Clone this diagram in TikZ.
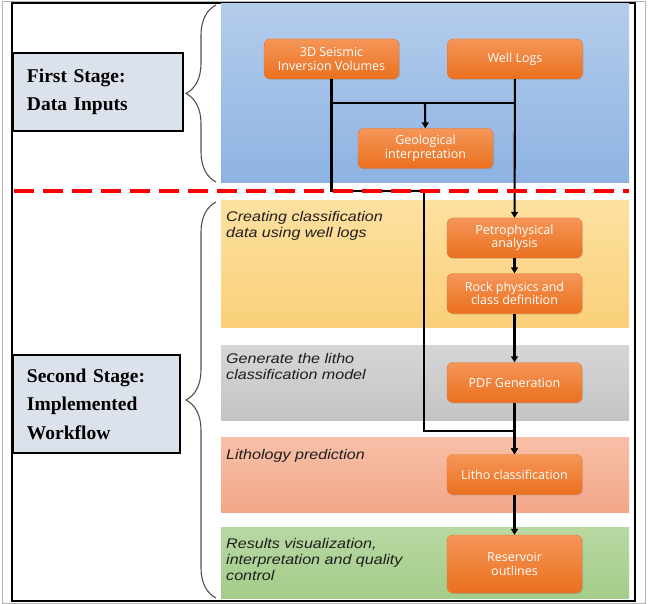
\documentclass[tikz,border=0pt]{standalone}
\usepackage{fontspec}
\setmainfont{Liberation Serif}
\newfontfamily\boxfont{Open Sans}
\newfontfamily\notefont[FakeStretch=1.15]{Liberation Sans}
\usepackage{tikz}
\usetikzlibrary{arrows.meta,decorations.pathreplacing,shadows}
\usepackage{xcolor}
\definecolor{stagefill}{RGB}{220,226,236}
\definecolor{boxtop}{RGB}{245,150,88}
\definecolor{boxbot}{RGB}{234,112,30}
\definecolor{boxline}{RGB}{226,116,48}
\definecolor{notegrey}{RGB}{30,30,30}
\definecolor{bracegrey}{RGB}{80,80,80}
\definecolor{bluetop}{RGB}{180,204,235}
\definecolor{bluebot}{RGB}{141,179,226}
\definecolor{yellowtop}{RGB}{253,224,160}
\definecolor{yellowbot}{RGB}{250,208,122}
\definecolor{greytop}{RGB}{214,214,214}
\definecolor{greybot}{RGB}{196,196,196}
\definecolor{salmontop}{RGB}{248,192,168}
\definecolor{salmonbot}{RGB}{242,166,136}
\definecolor{greentop}{RGB}{184,216,162}
\definecolor{greenbot}{RGB}{164,204,138}

\begin{document}
\begin{tikzpicture}[x=1pt, y=-1pt,
    stagebox/.style={draw=black, line width=1.5pt, fill=stagefill, align=left,
      text width=142pt, inner xsep=14pt, minimum width=170pt,
      font=\fontsize{19.5}{28.5}\selectfont\bfseries},
    stepbox/.style={draw=boxline, rounded corners=6pt, top color=boxtop, bottom color=boxbot,
      text=white, align=center, minimum width=135pt, minimum height=40pt,
      font=\boxfont\fontsize{12.5}{13.5}\selectfont,
      drop shadow={opacity=0.25, shadow xshift=1pt, shadow yshift=-1pt}},
    note/.style={anchor=north west, inner sep=0pt, align=left, text=notegrey,
      font=\notefont\itshape\fontsize{14}{16}\selectfont},
    link/.style={line width=2.1pt, black},
    tip/.tip={Triangle[length=6pt, width=7pt]}]
    \useasboundingbox (0,0) rectangle (648,604);

    % Frame
    \draw[black!30, line width=0.8pt] (2.5,1) rectangle (645.5,603.5);
    \draw[black, line width=1.5pt] (12,3) rectangle (635,601);

    % Coloured bands
    \foreach \ya/\yb/\ctop/\cbot in {4/183/bluetop/bluebot, 201/327/yellowtop/yellowbot,
        345/420/greytop/greybot, 437/512/salmontop/salmonbot, 527/598/greentop/greenbot}{
      \shade[top color=\ctop, bottom color=\cbot] (221,\ya) rectangle (629,\yb);
    }

    % Stage labels and braces
    \node[stagebox, minimum height=78pt] (first) at (98,92) {First Stage:\\Data Inputs};
    \node[stagebox, minimum height=98pt, minimum width=167pt, text width=139pt] (second) at (96.5,404)
      {Second Stage:\\Implemented\\Workflow};
    \draw[bracegrey, line width=1.1pt, decorate, decoration={brace, amplitude=30pt}]
      (216,182) -- (216,5);
    \draw[bracegrey, line width=1.1pt, decorate, decoration={brace, amplitude=30pt}]
      (216,598) -- (216,202);

    % Band notes
    \node[note] (n1) at (226,211) {Creating classification\\data using well logs};
    \node[note] (n2) at (226,353) {Generate the litho\\classification model};
    \node[note] (n3) at (226,449) {Lithology prediction};
    \node[note] (n4) at (226,538) {Results visualization,\\interpretation and quality\\control};

    % Inputs
    \node[stepbox] (seismic) at (331.5,59) {3D Seismic\\Inversion Volumes};
    \node[stepbox] (wells) at (515,59) {Well Logs};
    \node[stepbox] (geo) at (425.5,148.5) {Geological\\interpretation};

    % Workflow
    \node[stepbox] (petro) at (514.5,238) {Petrophysical\\analysis};
    \node[stepbox] (rock) at (514.5,293.5) {Rock physics and\\class definition};
    \node[stepbox] (pdf) at (514.5,382.5) {PDF Generation};
    \node[stepbox] (litho) at (514.5,474.5) {Litho classification};
    \node[stepbox, minimum height=58pt] (reservoir) at (514.5,564) {Reservoir\\outlines};

    % Connectors
    \coordinate (split) at (425,103);
    \coordinate (drop) at (424,191);
    \coordinate (merge) at (424,431);
    \draw[link] (seismic.south |- split) -- (wells.south |- split);
    \draw[link, -tip] (split) -- (geo);
    \draw[link, -tip] (wells) -- (petro);
    \draw[link, -tip] (seismic.south) |- (drop) -- (merge) -| (litho.north);
    \foreach \a/\b in {petro/rock, rock/pdf, pdf/litho, litho/reservoir}{
      \draw[link, -tip] (\a) -- (\b);
    }

    % Stage boundary
    \draw[red, line width=4pt, dash pattern=on 20pt off 9pt] (14,191) -- (629,191);
  \end{tikzpicture}
\end{document}
